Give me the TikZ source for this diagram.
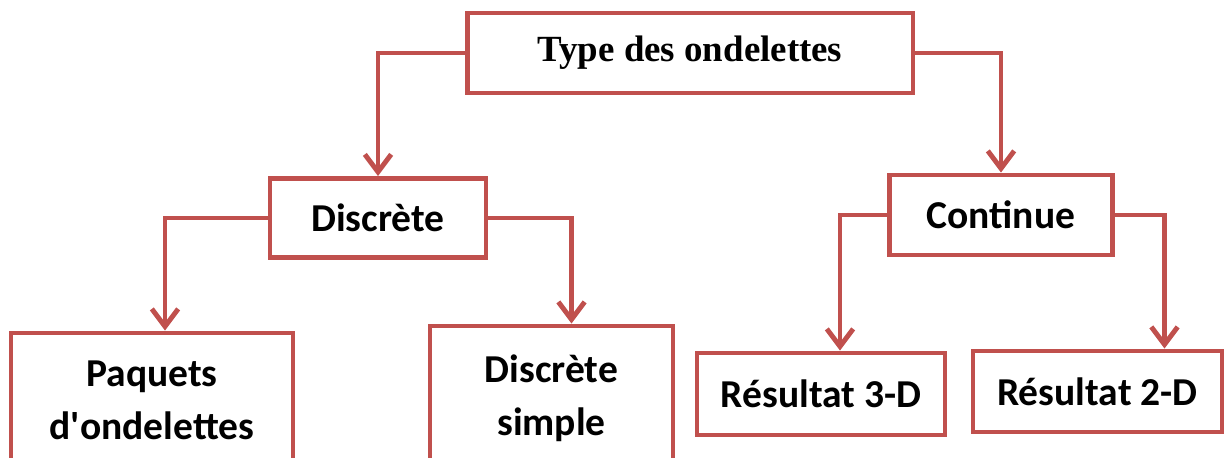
\documentclass[tikz,border=0pt]{standalone}
\usepackage{fontspec}
\setmainfont{Carlito}
\newfontfamily\titlefont{Liberation Serif}
\usetikzlibrary{arrows.meta}
\definecolor{boxred}{HTML}{C0504D}
\tikzset{
  box/.style={draw=boxred,line width=2.8pt,rectangle,align=center,inner sep=0pt,
    font=\bfseries\fontsize{22.5}{30}\selectfont},
  arr/.style={draw=boxred,line width=2.8pt,-{Straight Barb[length=10pt,width=15pt]}}
}
\begin{document}
\begin{tikzpicture}[x=0.02cm,y=-0.02cm]
    \clip (0,0) rectangle (1225,457);
    \node[box,minimum width=8.92cm,minimum height=1.6cm,
      font=\titlefont\bfseries\fontsize{21}{25}\selectfont] (top) at (690,53) {Type des ondelettes};
    \node[box,minimum width=4.32cm,minimum height=1.58cm] (disc) at (378,218) {Discrète};
    \node[box,minimum width=4.46cm,minimum height=1.6cm] (cont) at (1001,215) {Continue};
    \node[box,minimum width=5.64cm,minimum height=2.68cm] (paq) at (152,400) {Paquets\\d\textquotesingle ondelettes};
    \node[box,minimum width=4.86cm,minimum height=2.88cm] (simp) at (551.5,398) {Discrète\\simple};
    \node[box,minimum width=4.96cm,minimum height=1.64cm] (res3) at (821,394) {Résultat 3-D};
    \node[box,minimum width=4.98cm,minimum height=1.62cm] (res2) at (1097.5,391.5) {Résultat 2-D};
    \draw[arr] (top.west) -| (disc.north);
    \draw[arr] (top.east) -| (cont.north);
    \draw[arr] (disc.west) -| ([xshift=0.26cm]paq.north);
    \draw[arr] (disc.east) -| ([xshift=0.4cm]simp.north);
    \draw[arr] (cont.west) -| ([xshift=0.38cm]res3.north);
    \draw[arr] (cont.east) -| ([xshift=1.34cm]res2.north);
\end{tikzpicture}
\end{document}
